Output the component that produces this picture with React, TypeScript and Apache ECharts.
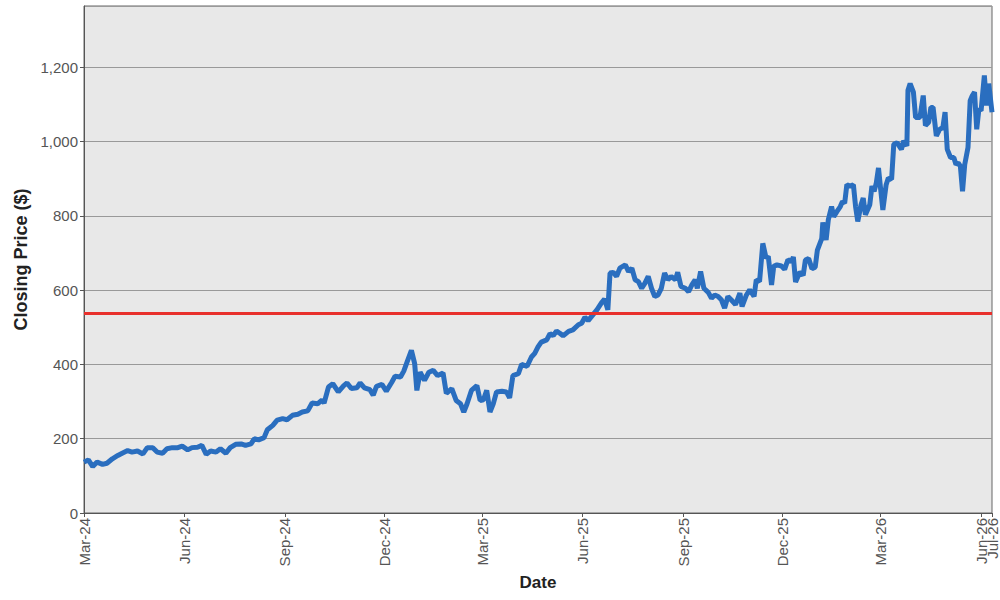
import React, { useEffect, useRef } from "react";
import * as echarts from "echarts";

const dates: string[] = [
  "2024-03-01", "2024-03-05", "2024-03-09", "2024-03-13", "2024-03-18", "2024-03-22", "2024-03-27",
  "2024-04-01", "2024-04-05", "2024-04-10", "2024-04-14", "2024-04-19", "2024-04-24", "2024-04-28",
  "2024-05-03", "2024-05-07", "2024-05-12", "2024-05-16", "2024-05-21", "2024-05-26", "2024-05-30",
  "2024-06-04", "2024-06-08", "2024-06-13", "2024-06-17", "2024-06-21", "2024-06-25", "2024-06-30",
  "2024-07-04", "2024-07-09", "2024-07-13", "2024-07-18", "2024-07-23", "2024-07-27",
  "2024-08-01", "2024-08-04", "2024-08-08", "2024-08-13", "2024-08-16", "2024-08-21", "2024-08-25", "2024-08-30",
  "2024-09-03", "2024-09-08", "2024-09-13", "2024-09-17", "2024-09-22", "2024-09-26",
  "2024-10-01", "2024-10-05", "2024-10-07", "2024-10-11", "2024-10-15", "2024-10-20", "2024-10-25", "2024-10-28",
  "2024-11-01", "2024-11-06", "2024-11-09", "2024-11-13", "2024-11-18", "2024-11-21", "2024-11-24", "2024-11-29",
  "2024-12-03", "2024-12-08", "2024-12-11", "2024-12-16", "2024-12-19", "2024-12-22", "2024-12-26", "2024-12-29", "2024-12-31",
  "2025-01-03", "2025-01-07", "2025-01-11", "2025-01-15", "2025-01-19", "2025-01-24", "2025-01-27",
  "2025-02-01", "2025-02-05", "2025-02-09", "2025-02-12", "2025-02-15", "2025-02-19", "2025-02-24", "2025-02-27",
  "2025-03-02", "2025-03-05", "2025-03-08", "2025-03-11", "2025-03-14", "2025-03-19", "2025-03-23", "2025-03-26", "2025-03-29",
  "2025-04-03", "2025-04-06", "2025-04-11", "2025-04-15", "2025-04-18", "2025-04-21", "2025-04-24", "2025-04-29",
  "2025-05-02", "2025-05-05", "2025-05-08", "2025-05-11", "2025-05-14", "2025-05-19", "2025-05-23", "2025-05-28", "2025-05-31",
  "2025-06-03", "2025-06-06", "2025-06-11", "2025-06-14", "2025-06-18", "2025-06-21", "2025-06-24", "2025-06-26", "2025-06-29",
  "2025-07-02", "2025-07-05", "2025-07-10", "2025-07-13", "2025-07-16", "2025-07-19", "2025-07-22", "2025-07-25", "2025-07-28", "2025-07-31",
  "2025-08-03", "2025-08-06", "2025-08-09", "2025-08-12", "2025-08-15", "2025-08-18", "2025-08-21", "2025-08-25", "2025-08-27", "2025-08-30",
  "2025-09-03", "2025-09-06", "2025-09-09", "2025-09-12", "2025-09-14", "2025-09-17", "2025-09-20", "2025-09-24", "2025-09-27", "2025-09-30",
  "2025-10-03", "2025-10-06", "2025-10-09", "2025-10-12", "2025-10-15", "2025-10-19", "2025-10-23", "2025-10-25", "2025-10-29",
  "2025-11-01", "2025-11-05", "2025-11-07", "2025-11-10", "2025-11-13", "2025-11-16", "2025-11-18", "2025-11-21", "2025-11-23", "2025-11-26", "2025-11-30",
  "2025-12-03", "2025-12-06", "2025-12-09", "2025-12-11", "2025-12-13", "2025-12-17", "2025-12-20", "2025-12-22", "2025-12-25", "2025-12-28", "2025-12-31",
  "2026-01-02", "2026-01-06", "2026-01-07", "2026-01-10", "2026-01-12", "2026-01-15", "2026-01-17", "2026-01-20", "2026-01-23", "2026-01-25", "2026-01-27", "2026-01-29",
  "2026-02-01", "2026-02-04", "2026-02-06", "2026-02-08", "2026-02-11", "2026-02-13", "2026-02-15", "2026-02-19", "2026-02-21", "2026-02-23", "2026-02-25", "2026-02-27",
  "2026-03-01", "2026-03-03", "2026-03-06", "2026-03-08", "2026-03-11", "2026-03-13", "2026-03-16", "2026-03-20", "2026-03-22", "2026-03-25", "2026-03-26", "2026-03-28", "2026-03-31",
  "2026-04-02", "2026-04-06", "2026-04-09", "2026-04-11", "2026-04-14", "2026-04-16", "2026-04-18", "2026-04-21", "2026-04-24", "2026-04-27", "2026-04-29",
  "2026-05-01", "2026-05-04", "2026-05-07", "2026-05-09", "2026-05-11", "2026-05-13", "2026-05-15", "2026-05-17", "2026-05-20", "2026-05-22", "2026-05-24", "2026-05-26", "2026-05-28", "2026-05-30",
  "2026-06-01", "2026-06-04", "2026-06-06", "2026-06-08", "2026-06-11",
];

const prices: number[] = [
  137, 143, 125, 137, 131, 134, 146,
  155, 161, 168, 164, 167, 159, 176,
  176, 164, 161, 173, 176, 176, 180,
  170, 176, 177, 182, 158, 167, 164,
  173, 161, 176, 185, 186, 182,
  186, 200, 197, 203, 224, 236, 250, 254,
  251, 263, 266, 272, 275, 296,
  294, 304, 296, 339, 348, 326, 343, 350,
  335, 337, 350, 337, 332, 317, 341, 346,
  328, 352, 368, 366, 382, 406, 438, 402, 330,
  379, 357, 379, 384, 370, 377, 322,
  335, 303, 294, 272, 294, 330, 343, 303,
  305, 330, 272, 294, 326, 328, 326, 310, 370,
  375, 400, 395, 420, 430, 447, 460, 466,
  483, 478, 490, 484, 477, 489, 493, 507, 511,
  527, 518, 536, 547, 565, 576, 547, 646, 648,
  637, 659, 668, 650, 659, 628, 623, 605, 619, 637,
  605, 583, 587, 605, 646, 628, 637, 628, 648, 610,
  605, 596, 614, 628, 605, 650, 605, 594, 578, 587,
  583, 574, 552, 583, 574, 561, 592, 556, 587,
  601, 583, 628, 623, 726, 686, 691, 614, 664, 668, 665,
  656, 682, 677, 689, 622, 649, 640, 681, 685, 658, 662,
  708, 739, 782, 735, 789, 825, 798, 812, 825, 839, 834, 884,
  880, 884, 825, 785, 830, 848, 803, 830, 880, 866, 889, 929,
  871, 816, 884, 902, 898, 993, 997, 979, 1002, 988, 1138, 1156, 1133,
  1065, 1065, 1124, 1043, 1052, 1092, 1092, 1015, 1033, 1038, 1079,
  979, 957, 957, 938, 943, 934, 866, 938, 984, 1110, 1124, 1133, 1033, 1088,
  1083, 1178, 1097, 1156, 1079,
];

const meanPrice = 539;

const axisStart = "2024-03-01";
const axisEnd = "2026-06-11";
const yMax = 1365;

const xTickDates: string[] = [
  "2024-03-01", "2024-06-01", "2024-09-01", "2024-12-01", "2025-03-01", "2025-06-01",
  "2025-09-01", "2025-12-01", "2026-03-01", "2026-06-01", "2026-06-11",
];
const xTickLabels: string[] = [
  "Mar-24", "Jun-24", "Sep-24", "Dec-24", "Mar-25", "Jun-25",
  "Sep-25", "Dec-25", "Mar-26", "Jun-26", "Jul-26",
];

const toTs = (s: string) => {
  const [y, m, d] = s.split("-").map(Number);
  return Date.UTC(y, m - 1, d);
};

export default function App() {
  const ref = useRef<HTMLDivElement>(null);

  useEffect(() => {
    if (!ref.current) return;
    const chart = echarts.init(ref.current, null, { renderer: "svg" });
    const tickTs = xTickDates.map(toTs);
    const mainTicks = tickTs.slice(0, tickTs.length - 1);
    const endTicks = tickTs.slice(tickTs.length - 1);
    const data = dates.map((d, i) => [toTs(d), prices[i]]);
    const font = "'Liberation Sans', Arial, Helvetica, sans-serif";
    const labelFor = (v: number) => {
      const idx = tickTs.indexOf(v);
      return idx >= 0 ? xTickLabels[idx] : "";
    };

    const baseLabel = {
      rotate: 90,
      fontSize: 15,
      color: "#555555",
      margin: 5,
      hideOverlap: false,
      showMinLabel: true,
      showMaxLabel: true,
      fontFamily: font,
      formatter: labelFor,
    };

    chart.setOption({
      animation: false,
      backgroundColor: "#ffffff",
      textStyle: { fontFamily: font },
      grid: {
        left: 84,
        right: 8,
        top: 6,
        bottom: 87,
        show: true,
        backgroundColor: "#e8e8e8",
        borderColor: "#666666",
        borderWidth: 1,
      },
      xAxis: [
        {
          type: "value",
          min: toTs(axisStart),
          max: toTs(axisEnd),
          position: "bottom",
          name: "Date",
          nameLocation: "middle",
          nameGap: 60,
          nameTextStyle: { fontSize: 17, fontWeight: "bold", color: "#222222", fontFamily: font },
          axisLine: { show: true, lineStyle: { color: "#555555", width: 1 } },
          axisTick: { show: true, length: 4, customValues: mainTicks, lineStyle: { color: "#555555" } },
          axisLabel: { ...baseLabel, customValues: mainTicks },
          splitLine: { show: false },
        },
        {
          type: "value",
          min: toTs(axisStart),
          max: toTs(axisEnd),
          position: "bottom",
          offset: 0,
          axisLine: { show: false },
          axisTick: { show: true, length: 4, customValues: endTicks, lineStyle: { color: "#555555" } },
          axisLabel: { ...baseLabel, customValues: endTicks },
          splitLine: { show: false },
        },
      ],
      yAxis: {
        type: "value",
        min: 0,
        max: yMax,
        interval: 200,
        name: "Closing Price ($)",
        nameLocation: "middle",
        nameGap: 53,
        nameTextStyle: { fontSize: 18, fontWeight: "bold", color: "#222222", fontFamily: font },
        axisLine: { show: true, lineStyle: { color: "#555555", width: 1 } },
        axisTick: { show: true, length: 4, lineStyle: { color: "#555555" } },
        axisLabel: {
          fontSize: 15,
          color: "#555555",
          margin: 6,
          showMaxLabel: false,
          fontFamily: font,
          formatter: (v: number) => v.toLocaleString("en-US"),
        },
        splitLine: { show: true, lineStyle: { color: "#999999", width: 1 } },
      },
      series: [
        {
          type: "line",
          xAxisIndex: 0,
          data,
          showSymbol: false,
          symbol: "none",
          lineStyle: { color: "#2a6ebf", width: 5 },
          itemStyle: { color: "#2a6ebf" },
          markLine: {
            silent: true,
            symbol: "none",
            label: { show: false },
            lineStyle: { color: "#e8302c", width: 3, type: "solid" },
            data: [{ yAxis: meanPrice }],
          },
        },
      ],
    });

    return () => chart.dispose();
  }, []);

  return (
    <div
      ref={ref}
      style={{ position: "absolute", left: 0, top: 0, width: 1000, height: 600, background: "#ffffff" }}
    />
  );
}
